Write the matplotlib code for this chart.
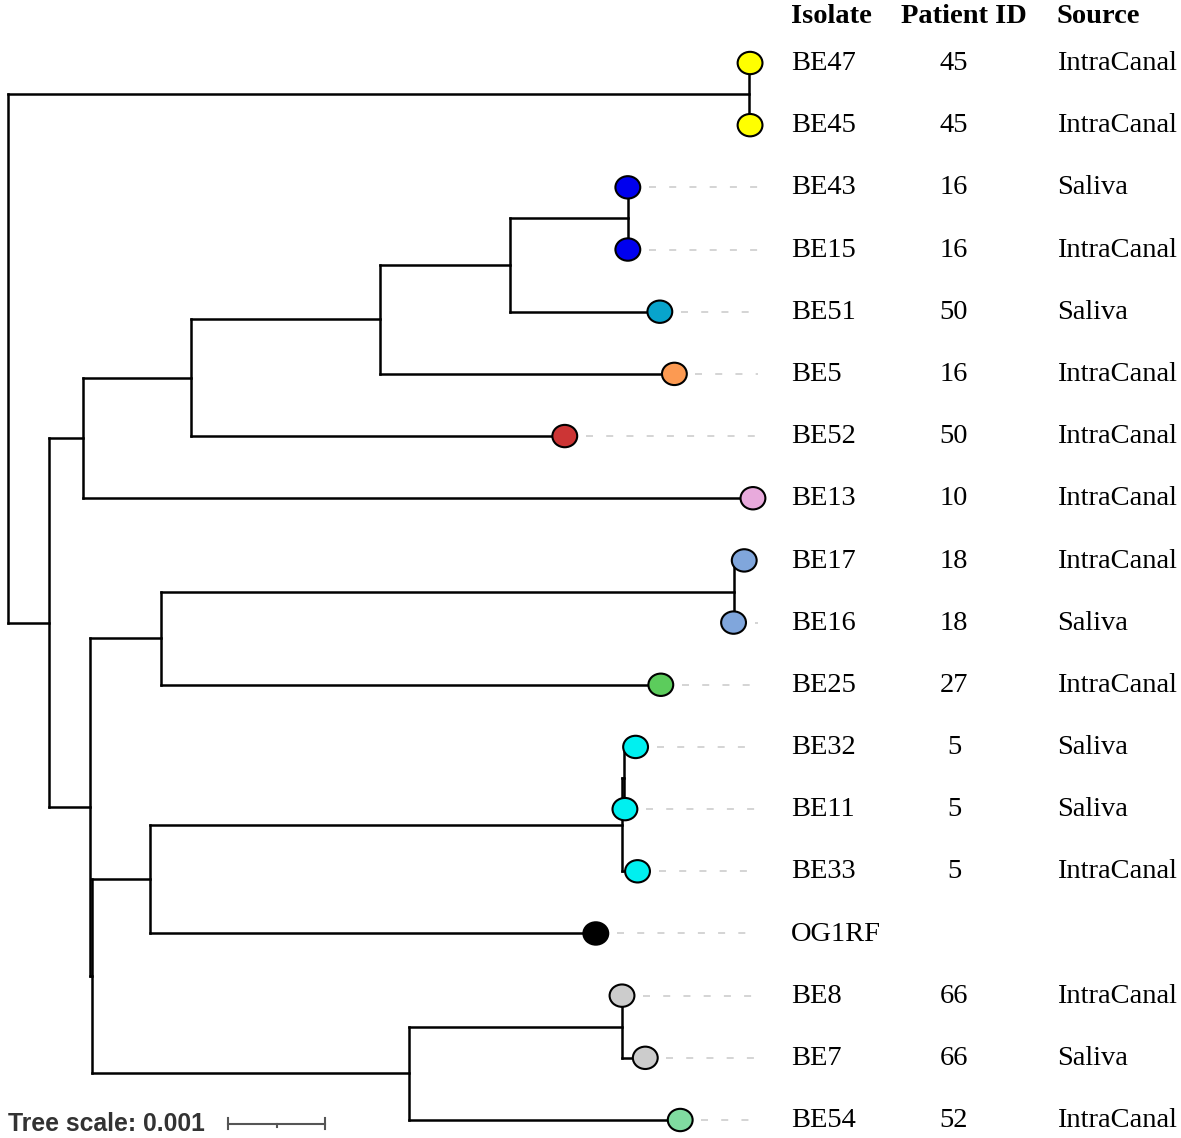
import numpy as np
import matplotlib
matplotlib.use("Agg")
import matplotlib.pyplot as plt
from matplotlib.path import Path
from matplotlib.transforms import Affine2D, blended_transform_factory

# tree: node names, parent of each node, branch length (substitutions/site)
nodes = ["root", "A", "BE47", "BE45", "B", "C", "D", "E", "F", "G", "BE43", "BE15",
         "BE51", "BE5", "BE52", "BE13", "H", "I", "J", "BE17", "BE16", "BE25", "K",
         "L", "M", "N", "BE32", "BE11", "BE33", "OG1RF", "P", "Q", "BE8", "BE7", "BE54"]
parents = [None, "root", "A", "A", "root", "B", "C", "D", "E", "F", "G", "G",
           "F", "E", "D", "C", "B", "H", "I", "J", "J", "I", "H",
           "K", "L", "M", "N", "N", "M", "L", "K", "P", "Q", "Q", "P"]
branch_len = [0, 0.00764, 0.00001, 0.00001, 0.00042, 0.00035, 0.00112, 0.00194, 0.00135,
              0.00121, 0, 0, 0.00154, 0.00304, 0.00385, 0.00691, 0.00043, 0.00073,
              0.00590, 0.00011, 0, 0.00515, 0.00002, 0.00059, 0.00487, 0.00002,
              0.00012, 0.00001, 0.00016, 0.00460, 0.00326, 0.00220, 0, 0.00024, 0.00280]

# leaf annotations (top to bottom)
isolates = ["BE47", "BE45", "BE43", "BE15", "BE51", "BE5", "BE52", "BE13", "BE17",
            "BE16", "BE25", "BE32", "BE11", "BE33", "OG1RF", "BE8", "BE7", "BE54"]
patient_ids = ["45", "45", "16", "16", "50", "16", "50", "10", "18",
               "18", "27", "5", "5", "5", "", "66", "66", "52"]
sources = ["IntraCanal", "IntraCanal", "Saliva", "IntraCanal", "Saliva", "IntraCanal",
           "IntraCanal", "IntraCanal", "IntraCanal", "Saliva", "IntraCanal", "Saliva",
           "Saliva", "IntraCanal", "", "IntraCanal", "Saliva", "IntraCanal"]
dot_colors = ["#ffff00", "#ffff00", "#0000ee", "#0000ee", "#08a4cc", "#fc9a52",
              "#cc3535", "#e8aadc", "#80a6dc", "#80a6dc", "#5ccc5c", "#00f0f0",
              "#00f0f0", "#00f0f0", "#000000", "#cccccc", "#cccccc", "#80dca0"]

W, H = 1181, 1138
fig = plt.figure(figsize=(W / 100, H / 100), dpi=100)
ax = fig.add_axes([0, 0, 1, 1])
ax.axis("off")
px = 97000.0  # pixels per unit of branch length
ax.set_xlim(-8 / px, (W - 8) / px)
step = (1120 - 63) / 17
ax.set_ylim((H - 63) / step, -63 / step)

children = {n: [] for n in nodes}
for n, p in zip(nodes, parents):
    if p is not None:
        children[p].append(n)
blen = dict(zip(nodes, branch_len))
par = dict(zip(nodes, parents))

depth = {}
for n in nodes:  # preorder: parent always comes first
    depth[n] = 0.0 if par[n] is None else depth[par[n]] + blen[n]

ypos = {}
def place(n):
    if not children[n]:
        ypos[n] = isolates.index(n)
    else:
        for c in children[n]:
            place(c)
        ypos[n] = (ypos[children[n][0]] + ypos[children[n][-1]]) / 2
place("root")

lw = 1.8
for n in nodes:
    if par[n] is not None:
        ax.plot([depth[par[n]], depth[n]], [ypos[n], ypos[n]], color="black",
                lw=lw, solid_capstyle="projecting", zorder=2)
    if children[n]:
        ax.plot([depth[n], depth[n]], [ypos[children[n][0]], ypos[children[n][-1]]],
                color="black", lw=lw, solid_capstyle="projecting", zorder=2)

# dashed leaders to the labels
leader_end = 750 / px
gap = 21 / px
for name in isolates:
    x0 = depth[name] + gap
    if x0 < leader_end:
        ax.plot([x0, leader_end], [ypos[name], ypos[name]], color="#d4d4d4",
                lw=1.4, dashes=(3.6, 6.8), zorder=1)

oval = Path.unit_circle().transformed(Affine2D().scale(1.0, 0.9))
leaf_x = [depth[n] for n in isolates]
leaf_y = [ypos[n] for n in isolates]
ax.scatter(leaf_x, leaf_y, s=320, marker=oval, c=dot_colors, edgecolors="black",
           linewidths=1.5, zorder=3)

serif = ["Liberation Serif", "DejaVu Serif"]
fs = 20.5
tx = blended_transform_factory(ax.transAxes, ax.transData)
for i in range(len(isolates)):
    yy = leaf_y[i] + 0.01
    ax.text(791 / W, yy, isolates[i], transform=tx, family=serif, fontsize=fs,
            ha="left", va="center")
    ax.text(954 / W, yy, patient_ids[i], transform=tx, family=serif, fontsize=fs,
            ha="center", va="center")
    ax.text(1057 / W, yy, sources[i], transform=tx, family=serif, fontsize=fs,
            ha="left", va="center")

hy = -0.74
ax.text(791 / W, hy, "Isolate", transform=tx, family=serif, fontsize=fs,
        fontweight="bold", ha="left", va="center")
ax.text(901 / W, hy, "Patient ID", transform=tx, family=serif, fontsize=fs,
        fontweight="bold", ha="left", va="center")
ax.text(1057 / W, hy, "Source", transform=tx, family=serif, fontsize=fs,
        fontweight="bold", ha="left", va="center")

# tree scale bar
scale_len = 0.001
sb_x = 220 / px
sb_y = 17.06
ax.text(0, sb_y + 0.01, "Tree scale: 0.001", family=["Liberation Sans", "DejaVu Sans"],
        fontsize=17.8, fontweight="bold", color="#333333", ha="left", va="center")
bar_col = "#555555"
ax.plot([sb_x, sb_x + scale_len], [sb_y, sb_y], color=bar_col, lw=1.5)
ax.plot([sb_x, sb_x], [sb_y - 0.09, sb_y + 0.09], color=bar_col, lw=1.5)
ax.plot([sb_x + scale_len, sb_x + scale_len], [sb_y - 0.09, sb_y + 0.09], color=bar_col, lw=1.5)
ax.plot([sb_x + scale_len / 2] * 2, [sb_y, sb_y + 0.05], color=bar_col, lw=1.5)

fig.savefig("out.png", dpi=100, facecolor="white")
